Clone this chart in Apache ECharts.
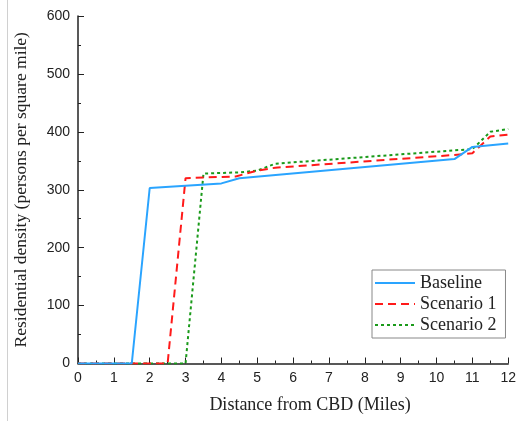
<!DOCTYPE html>
<html>
<head>
<meta charset="utf-8">
<script src="https://cdn.jsdelivr.net/npm/echarts@6/dist/echarts.min.js"></script>
<style>html,body{margin:0;padding:0;background:#fff}#c{width:519px;height:421px}</style>
</head>
<body>
<div id="c"></div>
<script>
const seriesNames = ['Baseline', 'Scenario 1', 'Scenario 2'];
const baseline = [[0,0],[1.5,0],[2,303],[4,311],[4.5,320],[10.5,353],[11,374],[12,380]];
const scenario1 = [[0,0],[2.5,0],[3,320],[4.4,323],[5,333],[5.5,338],[10.5,360],[11,363],[11.5,392],[12,395]];
const scenario2 = [[0,0],[3,0],[3.5,328],[4.5,330],[5,333],[5.5,345],[10.5,368],[11,370],[11.5,400],[12,405]];
const xTicks = [0,1,2,3,4,5,6,7,8,9,10,11,12];
const yTicks = [0,100,200,300,400,500,600];

const chart = echarts.init(document.getElementById('c'), null, {renderer:'canvas'});
const serif = '"Liberation Serif","Times New Roman",serif';
const sans = '"Liberation Sans",Arial,sans-serif';
const colors = ['#2aa4ff', '#ff1a1a', '#1a9a1a'];
const dashes = ['solid', [8,5], [3,3]];
const datas = [baseline, scenario1, scenario2];

chart.setOption({
  animation: false,
  grid: {left: 78, right: 10, top: 16, bottom: 57.5, containLabel: false},
  graphic: [{type:'line', shape:{x1:7.5,y1:0,x2:7.5,y2:421}, style:{stroke:'#d0d0d0', lineWidth:1}}],
  legend: {
    orient: 'vertical', left: 372, top: 270,
    data: seriesNames,
    itemWidth: 40, itemHeight: 12, itemGap: 3,
    padding: [4, 9, 4, 2],
    borderColor: '#888', borderWidth: 1,
    itemStyle: {opacity: 0, color: 'rgba(0,0,0,0)', borderWidth: 0},
    textStyle: {fontFamily: serif, fontSize: 18, color: '#222'}
  },
  xAxis: {
    type: 'value', min: xTicks[0], max: xTicks[xTicks.length-1], interval: 1,
    name: 'Distance from CBD (Miles)', nameLocation: 'middle', nameGap: 33,
    nameTextStyle: {fontFamily: serif, fontSize: 18, color: '#222', padding: [0, 0, 0, 34]},
    axisLine: {show: true, onZero: false, lineStyle: {color: '#222', width: 1.5}},
    axisTick: {show: true, inside: true, length: 6, lineStyle: {color: '#222'}},
    minorTick: {show: true, splitNumber: 2, length: 3, lineStyle: {color: '#222'}},
    axisLabel: {fontFamily: sans, fontSize: 14, color: '#222', margin: 8},
    splitLine: {show: false}
  },
  yAxis: {
    type: 'value', min: yTicks[0], max: yTicks[yTicks.length-1], interval: 100,
    name: 'Residential density (persons per square mile)', nameLocation: 'middle', nameGap: 48,
    nameTextStyle: {fontFamily: serif, fontSize: 17.5, color: '#222'},
    axisLine: {show: true, lineStyle: {color: '#222', width: 1.5}},
    axisTick: {show: true, inside: true, length: 6, lineStyle: {color: '#222'}},
    minorTick: {show: true, splitNumber: 2, length: 3, lineStyle: {color: '#222'}},
    axisLabel: {fontFamily: sans, fontSize: 14, color: '#222', margin: 8},
    splitLine: {show: false}
  },
  series: seriesNames.map((n, i) => ({
    name: n, type: 'line', data: datas[i], showSymbol: false, symbol: 'none',
    color: colors[i],
    lineStyle: {color: colors[i], width: 2, type: dashes[i]},
    z: 3 - i
  }))
});
</script>
</body>
</html>
